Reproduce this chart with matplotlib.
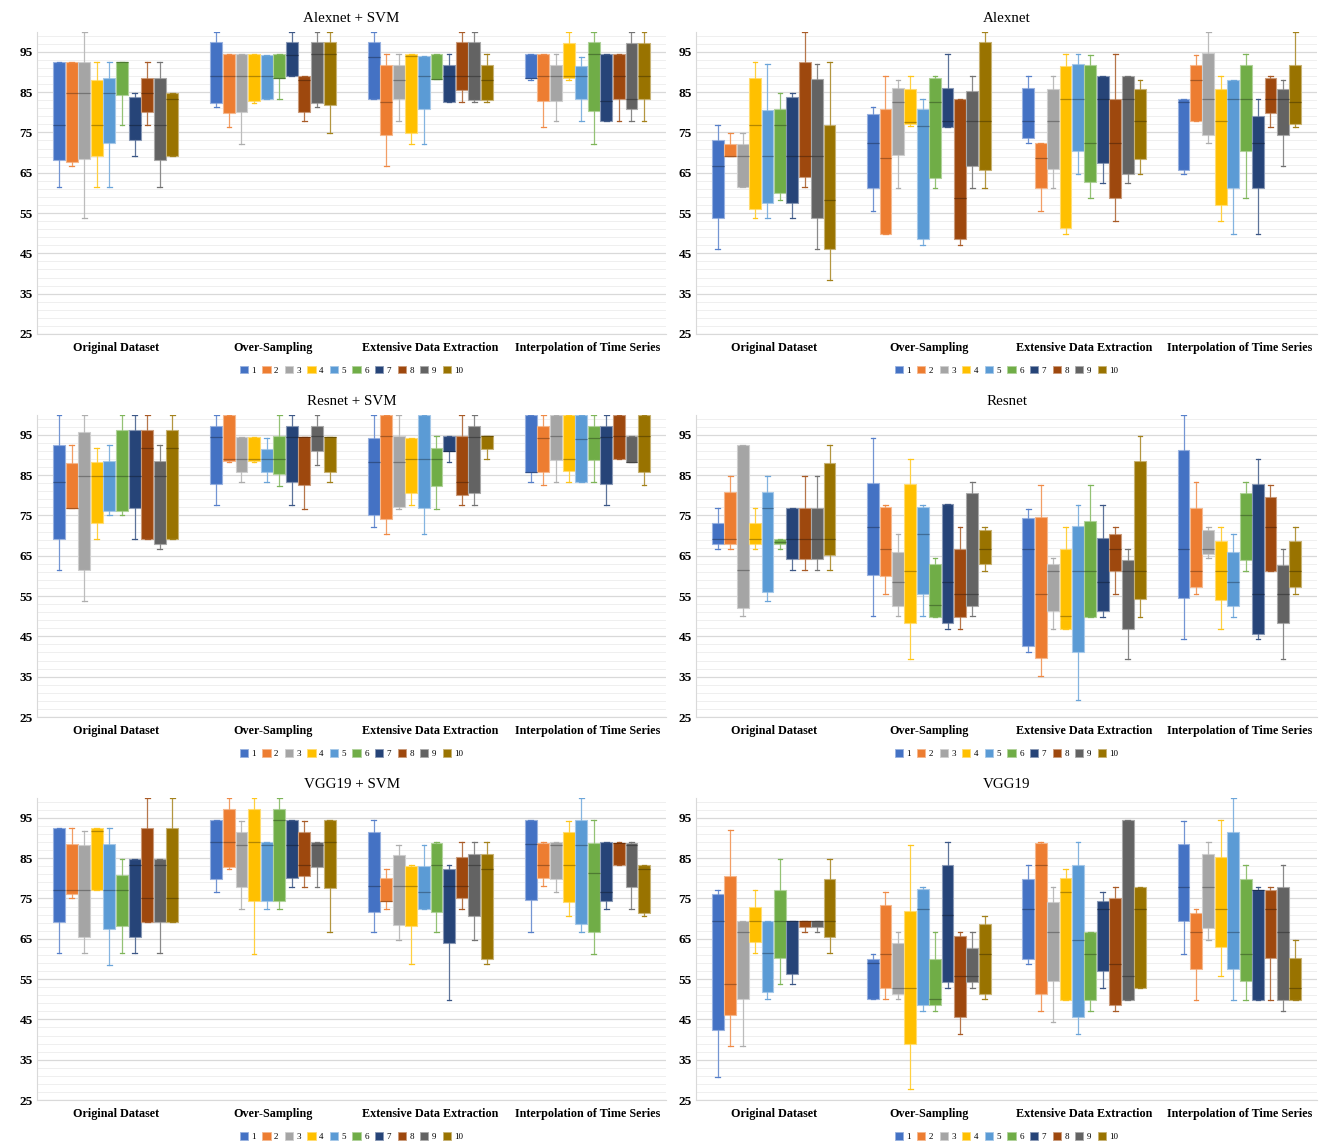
"""Box plots of per-fold accuracy for six models over four data-preparation strategies."""

import matplotlib.pyplot as plt
import numpy as np
from matplotlib.axes import Axes
from matplotlib.colors import to_rgb
from matplotlib.patches import Patch

plt.rcParams["font.family"] = ["Liberation Serif", "DejaVu Serif"]

CATEGORIES: list[str] = [
    "Original Dataset",
    "Over-Sampling",
    "Extensive Data Extraction",
    "Interpolation of Time Series",
]
SERIES: list[str] = [str(i) for i in range(1, 11)]
COLORS: list[str] = [
    "#4472C4", "#ED7D31", "#A5A5A5", "#FFC000", "#5B9BD5",
    "#70AD47", "#264478", "#9E480E", "#636363", "#997300",
]
Y_TICKS: list[int] = [25, 35, 45, 55, 65, 75, 85, 95]

# (whisker low, q1, median, q3, whisker high) for series 1..10, one block per category
ALEXNET_SVM = [
    [(61.5, 68.1, 76.8, 92.4, 92.4), (66.7, 67.7, 84.7, 92.4, 92.4), (53.7, 68.5, 84.7, 92.4, 100),
     (61.5, 69.1, 76.8, 87.9, 92.4), (61.5, 72.4, 84.7, 88.5, 92.4), (76.8, 84.3, 92.4, 92.4, 92.4),
     (69.1, 73.1, 76.8, 83.9, 84.7), (76.8, 80.1, 84.7, 88.5, 92.4), (61.5, 68.1, 76.8, 88.5, 92.4),
     (69.1, 69.1, 83.3, 84.7, 84.7)],
    [(81.4, 82.4, 88.9, 97.3, 100), (76.4, 79.9, 88.9, 94.4, 94.4), (72.1, 80.1, 88.9, 94.4, 94.4),
     (82.4, 82.9, 88.9, 94.4, 94.4), (83.3, 83.3, 88.9, 94.2, 94.2), (83.3, 88.6, 88.6, 94.4, 94.4),
     (88.9, 88.9, 94.2, 97.3, 100), (77.8, 80.1, 88.1, 88.9, 88.9), (81.4, 82.4, 94.4, 97.3, 100),
     (74.9, 81.9, 94.4, 97.3, 100)],
    [(83.3, 83.3, 93.8, 97.3, 100), (66.7, 74.4, 82.5, 91.7, 94.4), (77.8, 83.2, 88.1, 91.7, 94.4),
     (72.1, 74.9, 93.9, 94.4, 94.4), (72.1, 80.7, 88.9, 94.0, 94.0), (88.3, 88.3, 88.3, 94.4, 94.4),
     (82.5, 82.5, 88.9, 91.7, 94.4), (82.5, 85.4, 88.9, 97.3, 100), (82.5, 83.0, 88.9, 97.3, 100),
     (82.5, 83.0, 88.1, 91.7, 94.4)],
    [(88.1, 88.5, 88.5, 94.4, 94.4), (76.4, 82.9, 88.9, 94.4, 94.4), (77.8, 82.9, 88.9, 91.7, 94.4),
     (88.1, 88.5, 88.9, 97.1, 100), (77.8, 83.3, 88.9, 91.4, 93.8), (72.1, 80.3, 94.4, 97.3, 100),
     (77.8, 77.8, 82.7, 94.4, 94.4), (77.8, 83.2, 88.9, 94.4, 94.4), (77.8, 80.7, 83.3, 97.1, 100),
     (77.8, 83.2, 88.9, 97.1, 100)],
]

ALEXNET = [
    [(46.2, 53.8, 66.7, 73.1, 76.9), (69.2, 69.2, 69.2, 72.1, 74.9), (61.5, 61.5, 69.2, 72.1, 74.9),
     (53.7, 55.9, 76.9, 88.5, 92.4), (53.7, 57.6, 69.2, 80.5, 91.9), (58.2, 59.9, 76.9, 80.9, 84.7),
     (53.7, 57.6, 69.2, 83.9, 84.7), (61.5, 64.0, 69.2, 92.4, 100), (46.2, 53.8, 69.2, 88.2, 91.9),
     (38.4, 46.2, 58.2, 76.9, 92.4)],
    [(55.5, 61.1, 72.3, 79.6, 81.4), (49.9, 49.9, 68.7, 80.7, 88.9), (61.1, 69.4, 82.6, 85.9, 88.1),
     (76.6, 77.1, 77.7, 85.7, 88.9), (47.1, 48.5, 76.6, 80.7, 83.3), (61.1, 63.8, 82.6, 88.6, 88.9),
     (76.4, 76.4, 77.9, 86.1, 94.4), (47.1, 48.5, 58.8, 83.3, 83.3), (61.1, 66.7, 77.9, 85.2, 88.9),
     (61.1, 65.7, 77.9, 97.3, 100)],
    [(72.3, 73.7, 77.9, 86.1, 88.9), (55.5, 61.1, 68.7, 72.3, 72.3), (61.1, 65.8, 77.9, 85.7, 88.9),
     (49.9, 51.4, 83.3, 91.4, 94.4), (64.8, 70.5, 83.3, 91.9, 94.4), (58.8, 62.6, 72.3, 91.6, 94.2),
     (62.4, 67.3, 83.3, 88.9, 88.9), (52.9, 58.8, 72.3, 83.3, 94.4), (62.4, 64.6, 83.3, 88.9, 88.9),
     (64.8, 68.3, 77.9, 85.7, 88.1)],
    [(64.8, 65.7, 82.6, 83.3, 83.3), (77.9, 77.9, 88.1, 91.6, 94.2), (72.3, 74.3, 83.3, 94.6, 100),
     (52.9, 57.0, 77.9, 85.7, 88.9), (49.9, 61.1, 83.3, 88.1, 88.1), (58.8, 70.5, 83.3, 91.7, 94.4),
     (49.9, 61.1, 72.3, 79.1, 83.3), (76.4, 79.9, 83.3, 88.6, 88.9), (66.7, 74.4, 83.3, 85.7, 88.1),
     (76.4, 77.1, 82.6, 91.7, 100)],
]

RESNET_SVM = [
    [(61.5, 69.1, 83.3, 92.4, 100), (76.8, 76.8, 76.8, 87.9, 92.4), (53.7, 61.5, 84.7, 95.8, 100),
     (69.1, 73.1, 84.7, 88.2, 91.8), (75.0, 76.0, 84.7, 88.6, 92.4), (75.0, 76.0, 84.7, 96.2, 100),
     (69.1, 76.8, 84.9, 96.2, 100), (69.1, 69.1, 91.8, 96.2, 100), (66.7, 67.8, 84.7, 88.6, 92.4),
     (69.1, 69.1, 91.8, 96.2, 100)],
    [(77.7, 82.9, 94.4, 97.3, 100), (88.2, 88.6, 88.9, 100, 100), (83.3, 85.7, 88.9, 94.4, 94.4),
     (88.2, 88.6, 88.9, 94.4, 94.4), (83.3, 85.7, 88.9, 91.5, 94.3), (82.4, 85.2, 88.9, 94.6, 100),
     (77.7, 83.3, 94.4, 97.3, 100), (76.5, 82.6, 94.4, 94.4, 94.4), (87.6, 90.9, 94.6, 97.3, 100),
     (83.3, 85.7, 94.4, 94.4, 94.4)],
    [(72.2, 75.0, 88.3, 94.3, 100), (70.5, 74.2, 94.6, 100, 100), (76.7, 77.1, 88.3, 94.6, 100),
     (77.7, 80.5, 88.9, 94.3, 94.3), (70.5, 76.8, 88.9, 100, 100), (76.5, 82.4, 88.9, 91.7, 94.6),
     (88.3, 91.1, 91.1, 94.6, 94.6), (77.7, 80.1, 83.3, 94.6, 100), (77.7, 80.5, 94.4, 97.3, 100),
     (88.9, 91.5, 94.6, 94.6, 94.6)],
    [(83.3, 85.7, 85.7, 100, 100), (82.6, 85.7, 94.3, 97.3, 100), (83.3, 88.7, 94.6, 100, 100),
     (83.3, 86.1, 88.9, 100, 100), (83.3, 83.3, 94.0, 100, 100), (83.3, 88.7, 94.3, 97.3, 100),
     (77.7, 82.9, 94.4, 97.3, 100), (88.9, 88.9, 94.6, 100, 100), (88.2, 88.2, 88.2, 94.6, 94.6),
     (82.6, 85.7, 94.6, 100, 100)],
]

RESNET = [
    [(66.7, 67.9, 69.2, 73.1, 76.8), (66.7, 67.9, 69.2, 80.8, 84.7), (50.0, 52.0, 61.5, 92.4, 92.4),
     (66.7, 67.9, 69.2, 73.1, 76.8), (53.7, 56.0, 76.8, 80.8, 84.7), (66.7, 67.9, 68.5, 69.2, 69.2),
     (61.5, 64.1, 69.2, 76.8, 76.8), (61.5, 64.1, 69.2, 76.8, 84.7), (61.5, 64.1, 69.2, 76.8, 84.7),
     (61.5, 65.1, 69.2, 87.9, 92.4)],
    [(50.0, 60.1, 72.2, 83.1, 94.3), (55.5, 60.0, 66.7, 77.1, 77.7), (50.0, 52.6, 58.6, 65.9, 70.5),
     (39.3, 48.3, 61.1, 82.7, 88.9), (50.0, 55.5, 70.5, 77.1, 77.7), (49.9, 49.9, 52.9, 62.9, 64.5),
     (46.9, 48.4, 58.6, 77.8, 77.8), (46.9, 49.9, 55.5, 66.7, 72.2), (50.0, 52.6, 55.5, 80.5, 83.3),
     (61.1, 62.9, 66.7, 71.3, 72.2)],
    [(41.1, 42.7, 66.7, 74.3, 76.5), (35.2, 39.6, 55.5, 74.6, 82.6), (46.9, 51.4, 61.1, 62.9, 64.5),
     (46.9, 46.9, 50.0, 66.7, 72.2), (29.3, 41.0, 61.1, 72.3, 77.7), (49.9, 49.9, 61.1, 73.5, 82.6),
     (49.9, 51.4, 58.6, 69.5, 77.7), (55.5, 61.1, 66.7, 70.5, 72.2), (39.3, 46.9, 61.1, 64.0, 66.7),
     (49.9, 54.3, 61.1, 88.6, 94.6)],
    [(44.4, 54.5, 66.7, 91.3, 100), (55.5, 57.2, 61.1, 76.9, 83.3), (64.5, 65.5, 66.7, 71.3, 72.2),
     (46.9, 54.0, 61.1, 68.6, 72.2), (49.9, 52.6, 58.6, 65.9, 70.5), (61.1, 64.0, 75.0, 80.5, 83.3),
     (44.4, 45.7, 55.5, 82.7, 88.9), (61.1, 61.1, 72.2, 79.5, 82.6), (39.3, 48.3, 55.5, 62.8, 66.7),
     (55.5, 57.2, 61.1, 68.6, 72.2)],
]

VGG19_SVM = [
    [(61.4, 69.1, 77.0, 92.4, 92.4), (75.0, 76.0, 77.0, 88.6, 92.4), (61.4, 65.4, 77.0, 88.2, 91.7),
     (77.0, 77.0, 91.7, 92.4, 92.4), (58.4, 67.5, 77.0, 88.6, 92.4), (61.4, 68.1, 77.0, 80.8, 84.8),
     (61.4, 65.4, 83.4, 84.8, 84.8), (69.1, 69.1, 75.0, 92.4, 100), (61.4, 69.1, 83.4, 84.8, 84.8),
     (69.1, 69.1, 75.0, 92.4, 100)],
    [(76.5, 79.8, 89.0, 94.5, 94.5), (82.4, 82.9, 89.0, 97.2, 100), (72.4, 77.8, 88.2, 91.6, 94.3),
     (61.1, 74.3, 89.0, 97.3, 100), (72.4, 74.3, 88.2, 89.0, 89.0), (72.4, 74.3, 94.5, 97.3, 100),
     (77.8, 80.0, 88.2, 94.5, 94.5), (77.8, 80.5, 83.4, 91.4, 94.3), (77.8, 82.9, 88.2, 89.0, 89.0),
     (66.8, 77.5, 89.0, 94.5, 94.5)],
    [(66.8, 71.7, 78.0, 91.4, 94.5), (72.4, 74.3, 74.3, 80.0, 82.4), (64.8, 68.5, 78.0, 85.7, 88.2),
     (58.8, 68.2, 78.0, 83.0, 83.3), (72.4, 72.4, 76.6, 83.0, 88.2), (66.8, 71.7, 83.3, 88.8, 89.0),
     (49.9, 63.9, 78.0, 82.4, 83.3), (72.4, 75.1, 78.0, 85.2, 89.0), (64.8, 70.6, 83.3, 86.1, 89.0),
     (58.8, 60.0, 82.4, 86.1, 89.0)],
    [(66.8, 74.7, 88.4, 94.5, 94.5), (78.0, 80.0, 83.3, 88.7, 89.0), (76.5, 79.9, 88.2, 89.0, 89.0),
     (70.6, 74.2, 83.3, 91.6, 94.3), (66.8, 68.6, 88.2, 94.5, 100), (61.1, 66.7, 81.4, 88.8, 94.5),
     (72.4, 74.3, 76.6, 89.0, 89.0), (83.3, 83.3, 88.7, 88.7, 89.0), (72.4, 77.8, 88.2, 88.8, 89.0),
     (70.6, 71.4, 82.4, 83.3, 83.3)],
]

VGG19 = [
    [(30.7, 42.4, 69.3, 76.0, 77.0), (38.5, 46.2, 53.8, 80.5, 91.9), (38.5, 50.0, 66.8, 69.3, 69.3),
     (61.4, 64.2, 69.3, 73.0, 77.0), (50.0, 51.9, 61.4, 69.3, 69.3), (53.8, 60.2, 69.3, 77.0, 84.8),
     (53.8, 56.2, 69.3, 69.3, 69.3), (66.8, 67.9, 69.3, 69.3, 69.3), (66.8, 67.9, 69.3, 69.3, 69.3),
     (61.4, 65.4, 69.3, 79.8, 84.8)],
    [(50.0, 50.0, 59.0, 60.0, 61.1), (50.0, 52.9, 61.1, 73.5, 76.5), (50.0, 51.4, 52.9, 63.9, 66.8),
     (27.8, 38.8, 52.9, 72.0, 88.2), (47.2, 48.6, 72.4, 77.3, 77.8), (47.2, 48.6, 50.0, 59.9, 66.8),
     (52.9, 54.3, 70.8, 83.4, 89.0), (41.3, 45.6, 55.7, 65.8, 66.8), (52.9, 54.3, 55.7, 62.8, 66.8),
     (50.0, 51.4, 61.1, 68.7, 70.6)],
    [(58.8, 60.0, 72.4, 79.9, 83.3), (47.2, 51.4, 83.3, 88.7, 89.0), (44.3, 54.5, 66.8, 74.2, 77.8),
     (49.9, 49.9, 76.5, 80.0, 82.4), (41.3, 45.6, 64.8, 83.3, 89.0), (47.2, 49.9, 61.1, 66.7, 66.7),
     (52.9, 57.1, 72.4, 74.3, 76.5), (47.2, 48.6, 58.8, 75.0, 77.8), (49.9, 49.9, 55.7, 94.5, 94.5),
     (52.9, 52.9, 72.4, 77.8, 77.8)],
    [(61.1, 69.4, 77.8, 88.4, 94.3), (49.9, 57.5, 66.8, 71.4, 72.4), (64.8, 67.6, 77.8, 86.1, 89.0),
     (55.7, 63.0, 72.4, 85.4, 94.5), (49.9, 57.5, 66.8, 91.4, 100), (49.9, 54.5, 61.1, 79.9, 83.3),
     (49.9, 49.9, 77.2, 77.2, 77.8), (49.9, 60.3, 72.4, 77.2, 77.8), (47.2, 49.9, 66.8, 77.8, 83.3),
     (49.9, 49.9, 52.9, 60.2, 64.8)],
]

PANELS = [
    ("Alexnet + SVM", ALEXNET_SVM),
    ("Alexnet", ALEXNET),
    ("Resnet + SVM", RESNET_SVM),
    ("Resnet", RESNET),
    ("VGG19 + SVM", VGG19_SVM),
    ("VGG19", VGG19),
]


def shade(color: str, amount: float) -> tuple[float, float, float]:
    """Mix a colour with white (amount > 0) or black (amount < 0)."""
    rgb = np.array(to_rgb(color))
    if amount >= 0:
        rgb = rgb + (1 - rgb) * amount
    else:
        rgb = rgb * (1 + amount)
    return tuple(rgb)


def draw_panel(ax: Axes, title: str, data: list) -> None:
    """Draw the grouped box plots of one model."""
    step = 0.08
    for g, group in enumerate(data):
        for j, (lo, q1, med, q3, hi) in enumerate(group):
            color = COLORS[j]
            stats = [{"whislo": lo, "q1": q1, "med": med, "q3": q3, "whishi": hi, "fliers": []}]
            ax.bxp(
                stats,
                positions=[g + (j - 4.5) * step],
                widths=0.076,
                patch_artist=True,
                showfliers=False,
                manage_ticks=False,
                boxprops={"facecolor": color, "edgecolor": shade(color, 0.45), "linewidth": 0.8},
                medianprops={"color": shade(color, -0.3), "linewidth": 0.9},
                whiskerprops={"color": shade(color, 0.25), "linewidth": 0.9},
                capprops={"color": shade(color, 0.1), "linewidth": 0.9},
                capwidths=0.03,
                zorder=3,
            )

    ax.set_xlim(-0.5, 3.5)
    ax.set_ylim(25, 100)
    ax.set_yticks(Y_TICKS)
    ax.set_yticks(np.arange(27, 100, 2), minor=True)
    ax.grid(axis="y", which="major", color="#d9d9d9", linewidth=0.9, zorder=0)
    ax.grid(axis="y", which="minor", color="#efefef", linewidth=0.7, zorder=0)
    ax.set_xticks(range(len(CATEGORIES)))
    ax.set_xticklabels(CATEGORIES, fontweight="bold", fontsize=8.7)
    ax.tick_params(axis="x", length=0, pad=6)
    ax.tick_params(axis="y", which="both", length=0, labelsize=9.5, pad=3)
    for label in ax.get_yticklabels():
        label.set_fontweight("bold")
    for side in ("top", "right"):
        ax.spines[side].set_visible(False)
    ax.spines["bottom"].set_color("#d9d9d9")
    ax.spines["left"].set_color("#d9d9d9")
    ax.set_title(title, fontsize=10.8, pad=7)

    handles = [Patch(facecolor=c, edgecolor=shade(c, 0.45), linewidth=0.6) for c in COLORS]
    ax.legend(
        handles, SERIES, loc="upper center", bbox_to_anchor=(0.5, -0.085), ncol=10,
        frameon=False, fontsize=6.5, handlelength=0.9, handleheight=0.9,
        handletextpad=0.4, columnspacing=0.7, borderpad=0.2,
    )


def main() -> None:
    """Entry function."""
    fig = plt.figure(figsize=(13.19, 11.41), dpi=100)
    lefts = [0.0281, 0.5277]
    widths = [0.4769, 0.4708]
    bottoms = [0.7073, 0.3716, 0.0359]
    height = 0.2650
    for k, (title, data) in enumerate(PANELS):
        row, col = divmod(k, 2)
        ax = fig.add_axes((lefts[col], bottoms[row], widths[col], height))
        draw_panel(ax, title, data)
    fig.savefig("out.png", dpi=100)


if __name__ == "__main__":
    main()
